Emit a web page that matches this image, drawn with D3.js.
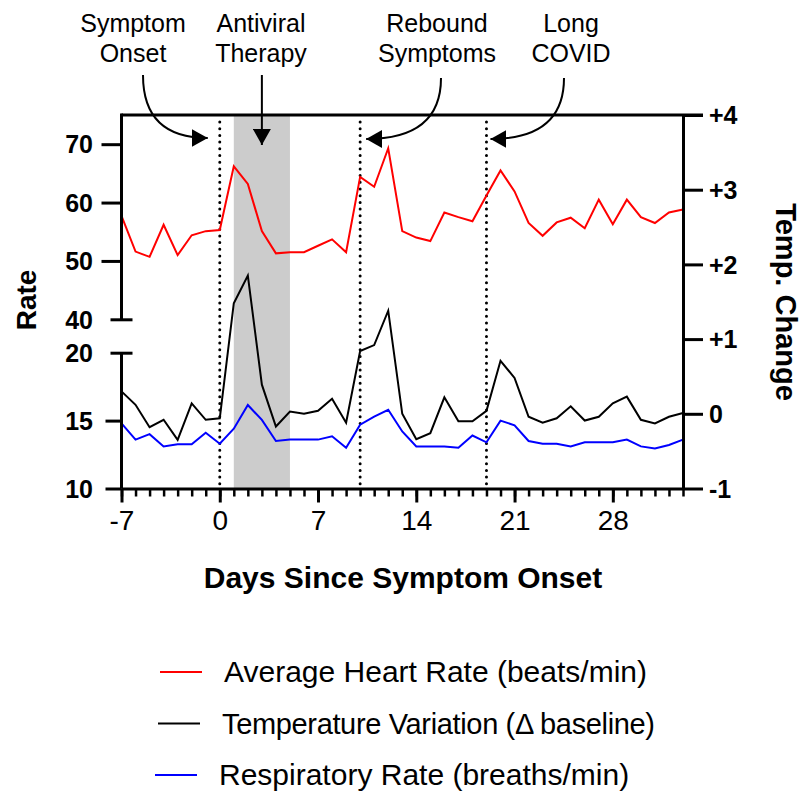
<!DOCTYPE html>
<html>
<head>
<meta charset="utf-8">
<script src="https://cdn.jsdelivr.net/npm/d3@7"></script>
<style>
  body { margin: 0; background: #fff; }
  svg { display: block; font-family: Arial, "Liberation Sans", Helvetica, sans-serif; }
</style>
</head>
<body>
<svg width="803" height="793"></svg>
<script>
// days since symptom onset
const days = [-7,-6,-5,-4,-3,-2,-1,0,1,2,3,4,5,6,7,8,9,10,11,12,13,14,15,16,17,18,19,20,21,22,23,24,25,26,27,28,29,30,31,32,33];

// average heart rate (beats/min) - left axis, upper segment
const heartRate = [57.7,51.6,50.7,56.2,51.0,54.4,55.1,55.3,66.2,63.2,55.1,51.3,51.5,51.5,52.6,53.7,51.5,64.4,62.7,69.3,
  55.1,54.0,53.4,58.3,57.5,56.8,61.2,65.5,61.9,56.5,54.3,56.6,57.4,55.6,60.5,56.3,60.5,57.5,56.5,58.3,58.8];

// temperature change vs baseline - right axis
const tempChange = [0.30,0.12,-0.18,-0.08,-0.35,0.14,-0.08,-0.06,1.48,1.85,0.39,-0.17,0.03,0.00,0.04,0.20,-0.12,0.84,0.92,1.38,
  0.00,-0.34,-0.26,0.22,-0.10,-0.10,0.04,0.71,0.48,-0.04,-0.12,-0.06,0.10,-0.09,-0.04,0.14,0.23,-0.08,-0.13,-0.04,0.01];

// respiratory rate (breaths/min) - left axis, lower segment
const respRate = [14.8,13.6,14.0,13.1,13.25,13.25,14.1,13.3,14.4,16.15,15.05,13.5,13.6,13.6,13.6,13.85,13.0,14.7,15.3,15.8,
  14.2,13.1,13.1,13.1,13.0,13.9,13.4,15.0,14.65,13.5,13.3,13.3,13.1,13.4,13.4,13.4,13.6,13.1,12.95,13.2,13.6];

const xTicks = [-7,0,7,14,21,28];
const hrTicks = [40,50,60,70];
const rrTicks = [10,15,20];
const tempTicks = [-1,0,1,2,3,4];

const therapyDays = [1,5];
const eventDays = [0,10,19];
const annotations = [
  { lines: ["Symptom","Onset"], day: 0 },
  { lines: ["Antiviral","Therapy"], day: 3 },
  { lines: ["Rebound","Symptoms"], day: 10 },
  { lines: ["Long","COVID"], day: 19 }
];

const seriesNames = ["Average Heart Rate (beats/min)", "Temperature Variation (\u0394 baseline)", "Respiratory Rate (breaths/min)"];
const seriesColors = ["#ff0000", "#000000", "#0000ff"];

const svg = d3.select("svg");
const plotL = 121.5, plotR = 683, plotT = 115, plotB = 488.5;

const x = d3.scaleLinear().domain([-7, 33]).range([plotL, plotR]);
const yTop = d3.scaleLinear().domain([40, 75]).range([319.3, plotT]);
const yBot = d3.scaleLinear().domain([10, 20]).range([plotB, 352.7]);
const yRight = d3.scaleLinear().domain([-1, 4]).range([plotB, plotT]);

// antiviral therapy band
svg.append("rect")
  .attr("x", x(therapyDays[0]))
  .attr("y", plotT)
  .attr("width", x(therapyDays[1]) - x(therapyDays[0]))
  .attr("height", plotB - plotT)
  .attr("fill", "#cccccc");

// dotted event lines
svg.selectAll(".event")
  .data(eventDays)
  .enter().append("line")
  .attr("x1", d => x(d)).attr("x2", d => x(d))
  .attr("y1", plotT + 7).attr("y2", plotB - 4)
  .attr("stroke", "#000")
  .attr("stroke-width", 3)
  .attr("stroke-linecap", "round")
  .attr("stroke-dasharray", "0,6.7");

// data lines
const pts = v => days.map((d, i) => [d, v[i]]);
const lines = [
  { data: pts(heartRate), y: yTop, color: seriesColors[0] },
  { data: pts(tempChange), y: yRight, color: seriesColors[1] },
  { data: pts(respRate), y: yBot, color: seriesColors[2] }
];
lines.forEach(s => {
  svg.append("path")
    .datum(s.data)
    .attr("fill", "none")
    .attr("stroke", s.color)
    .attr("stroke-width", 2)
    .attr("d", d3.line().x(d => x(d[0])).y(d => s.y(d[1])));
});

// frame top line (to end of +4 tick)
svg.append("line")
  .attr("x1", plotL).attr("x2", plotR + 20)
  .attr("y1", plotT).attr("y2", plotT)
  .attr("stroke", "#000").attr("stroke-width", 3);

// left axis, upper segment
const gTop = svg.append("g")
  .attr("transform", `translate(${plotL},0)`)
  .call(d3.axisLeft(yTop).tickValues(hrTicks).tickSize(20).tickSizeOuter(0));
gTop.select(".domain").remove();
gTop.append("line").attr("y1", plotT - 1.5).attr("y2", yTop(40)).attr("stroke", "#000").attr("stroke-width", 3);
gTop.selectAll(".tick line").attr("stroke-width", 3)
  .filter(d => d === 40).attr("x1", -11).attr("x2", 11);

// left axis, lower segment
const gBot = svg.append("g")
  .attr("transform", `translate(${plotL},0)`)
  .call(d3.axisLeft(yBot).tickValues(rrTicks).tickSize(16).tickSizeOuter(0));
gBot.select(".domain").remove();
gBot.append("line").attr("y1", yBot(20)).attr("y2", plotB).attr("stroke", "#000").attr("stroke-width", 3);
gBot.selectAll(".tick line").attr("stroke-width", 3)
  .filter(d => d === 20).attr("x1", -11).attr("x2", 11);

[gTop, gBot].forEach(g => {
  g.selectAll(".tick text")
    .attr("x", -28.5)
    .attr("dy", "0.35em")
    .attr("font-size", 25)
    .attr("font-weight", "bold")
    .attr("font-family", "Arial, 'Liberation Sans', sans-serif")
    .attr("fill", "#000");
});

// right axis
const gRight = svg.append("g")
  .attr("transform", `translate(${plotR},0)`)
  .call(d3.axisRight(yRight).tickValues(tempTicks).tickSize(20).tickSizeOuter(0)
    .tickFormat(d => d > 0 ? "+" + d : String(d)));
gRight.select(".domain").attr("stroke-width", 3);
gRight.selectAll(".tick line").attr("stroke-width", 3);
gRight.selectAll(".tick text")
  .attr("x", 26)
  .attr("dy", "0.35em")
  .attr("font-size", 25)
  .attr("font-weight", "bold")
  .attr("font-family", "Arial, 'Liberation Sans', sans-serif")
  .attr("fill", "#000");

// x axis: minor ticks every day, major every week
const gMinor = svg.append("g")
  .attr("transform", `translate(0,${plotB})`)
  .call(d3.axisBottom(x).tickValues(days).tickSize(8).tickFormat(""));
gMinor.select(".domain").remove();
gMinor.selectAll(".tick line").attr("stroke-width", 2.5);

const gX = svg.append("g")
  .attr("transform", `translate(0,${plotB})`)
  .call(d3.axisBottom(x).tickValues(xTicks).tickSize(14).tickSizeOuter(0)
    .tickFormat(d => String(d)));
gX.select(".domain").attr("stroke-width", 3);
gX.selectAll(".tick line").attr("stroke-width", 3);
gX.selectAll(".tick text")
  .attr("y", 22)
  .attr("dy", "0.71em")
  .attr("font-size", 28)
  .attr("font-family", "Arial, 'Liberation Sans', sans-serif")
  .attr("fill", "#000");

// axis titles
svg.append("text")
  .attr("x", 403).attr("y", 588)
  .attr("text-anchor", "middle")
  .attr("font-size", 30).attr("font-weight", "bold")
  .text("Days Since Symptom Onset");

svg.append("text")
  .attr("transform", "translate(36,300) rotate(-90)")
  .attr("text-anchor", "middle")
  .attr("font-size", 28).attr("font-weight", "bold")
  .text("Rate");

svg.append("text")
  .attr("transform", "translate(776,302) rotate(90)")
  .attr("text-anchor", "middle")
  .attr("font-size", 29).attr("font-weight", "bold")
  .text("Temp. Change");

// arrowhead marker
svg.append("defs").append("marker")
  .attr("id", "arrow")
  .attr("viewBox", "0 0 16 18")
  .attr("refX", 16).attr("refY", 9)
  .attr("markerWidth", 16).attr("markerHeight", 18)
  .attr("markerUnits", "userSpaceOnUse")
  .attr("orient", "auto")
  .append("path")
  .attr("d", "M0,0 L16,9 L0,18 Z")
  .attr("fill", "#000");

// annotation text
const textX = [133, 261, 437, 571];
annotations.forEach((a, i) => {
  const t = svg.append("text")
    .attr("text-anchor", "middle")
    .attr("font-size", 25)
    .attr("fill", "#000");
  a.lines.forEach((l, j) => {
    t.append("tspan").attr("x", textX[i]).attr("y", 32 + j * 29.5).text(l);
  });
});

// annotation arrows
const arrowPaths = [
  `M143,75 C143,118 165,138 ${x(0) - 12},138`,
  `M${x(3)},75 L${x(3)},145`,
  `M441,78 C441,122 412,139 ${x(10) + 6},139`,
  `M564,78 C564,122 535,139 ${x(19) + 4},139`
];
svg.selectAll(".arrow")
  .data(arrowPaths)
  .enter().append("path")
  .attr("d", d => d)
  .attr("fill", "none")
  .attr("stroke", "#000")
  .attr("stroke-width", 2)
  .attr("marker-end", "url(#arrow)");

// legend
const legendY = [672, 723.5, 775];
const legendX = [160, 158, 155];
seriesNames.forEach((name, i) => {
  svg.append("line")
    .attr("x1", legendX[i]).attr("x2", legendX[i] + 42)
    .attr("y1", legendY[i]).attr("y2", legendY[i])
    .attr("stroke", seriesColors[i]).attr("stroke-width", 2);
  const t = svg.append("text")
    .attr("x", legendX[i] + 64).attr("y", legendY[i] + 10)
    .attr("font-size", i === 1 ? 29 : 30)
    .attr("fill", "#000")
    .text(name);
  if (i === 1) t.attr("textLength", 433).attr("lengthAdjust", "spacing");
});
</script>
</body>
</html>
